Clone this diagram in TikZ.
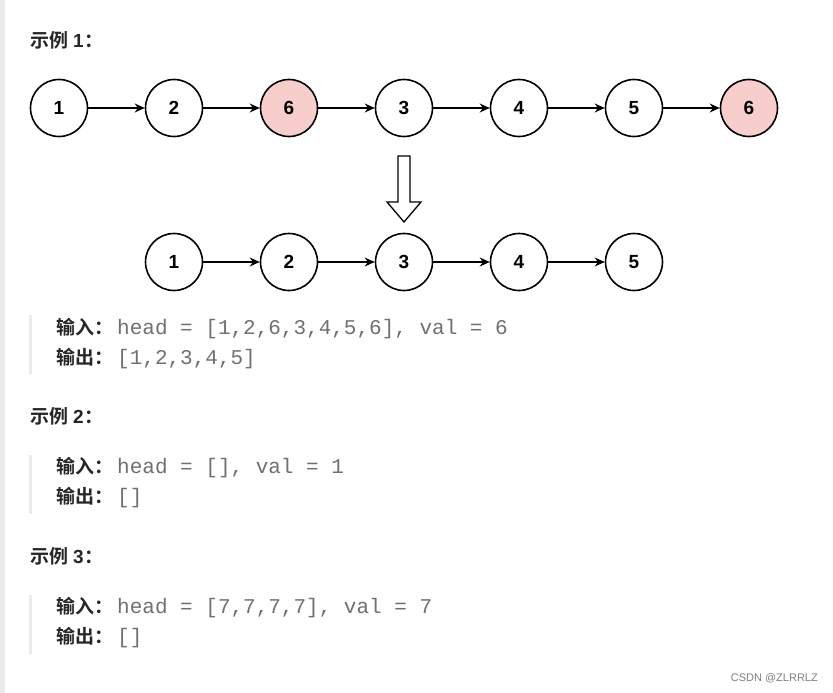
\documentclass[tikz,border=0pt]{standalone}
\usepackage{fontspec}
\setmainfont{Liberation Sans}
\newfontfamily\cjk{Noto Sans CJK SC}[BoldFont={Noto Sans CJK SC Bold}]
\newfontfamily\codefont{Liberation Mono}
\usetikzlibrary{arrows.meta}
\definecolor{pinkfill}{HTML}{F8CECC}
\definecolor{codegray}{HTML}{707070}
\definecolor{barg}{HTML}{EBEBEB}
\tikzset{
  listnode/.style={circle, draw=black, line width=1.6pt, minimum size=57pt, inner sep=0pt, fill=white,
    font=\fontsize{19}{19}\selectfont\bfseries},
  hit/.style={listnode, fill=pinkfill},
  link/.style={line width=1.3pt, -{Stealth[length=10pt,width=9pt]}},
  heading/.style={anchor=west, font=\fontsize{19}{19}\selectfont, text=black!85, inner sep=0pt},
  codeline/.style={anchor=west, inner sep=0pt, font=\fontsize{21}{21}\selectfont},
  quotebar/.style={fill=barg, draw=none},
}
\newcommand{\lbl}[1]{{\cjk\bfseries\fontsize{19}{19}\selectfont\color{black!85}#1}\kern4pt}
\newcommand{\code}[1]{{\codefont\color{codegray}#1}}
\newcommand{\hd}[1]{{\cjk\bfseries 示例}\kern5pt{\bfseries #1}\kern1pt{\cjk\bfseries ：}}
\begin{document}
\begin{tikzpicture}[x=1pt,y=-1pt]
\useasboundingbox (0,0) rectangle (833,693);
\fill[white] (0,0) rectangle (833,693);
\fill[barg] (0,0) rectangle (5,693);

% headings
\node[heading] (h1) at (30,40) {\hd{1}};
\node[heading] (h2) at (30,416) {\hd{2}};
\node[heading] (h3) at (30,556) {\hd{3}};

% row 1
\node[listnode] (a1) at (59,108) {1};
\node[listnode] (a2) at (174,108) {2};
\node[hit]      (a3) at (289,108) {6};
\node[listnode] (a4) at (404,108) {3};
\node[listnode] (a5) at (519,108) {4};
\node[listnode] (a6) at (634,108) {5};
\node[hit]      (a7) at (749,108) {6};
\foreach \i/\j in {a1/a2,a2/a3,a3/a4,a4/a5,a5/a6,a6/a7} \draw[link] (\i) -- (\j);

% hollow down arrow
\draw[line width=1.3pt, fill=white, line join=miter]
  (398,156) -- (410,156) -- (410,202) -- (421,202) -- (404,222) -- (387,202) -- (398,202) -- cycle;

% row 2
\node[listnode] (b1) at (174,262) {1};
\node[listnode] (b2) at (289,262) {2};
\node[listnode] (b3) at (404,262) {3};
\node[listnode] (b4) at (519,262) {4};
\node[listnode] (b5) at (634,262) {5};
\foreach \i/\j in {b1/b2,b2/b3,b3/b4,b4/b5} \draw[link] (\i) -- (\j);

% example 1 text
\fill[quotebar] (29,315) rectangle (32,374);
\node[codeline] (i1) at (56,329) {\lbl{输入：}\code{head = [1,2,6,3,4,5,6], val = 6}};
\node[codeline] (o1) at (56,359) {\lbl{输出：}\code{[1,2,3,4,5]}};

% example 2
\fill[quotebar] (29,455) rectangle (32,514);
\node[codeline] (i2) at (56,468) {\lbl{输入：}\code{head = [], val = 1}};
\node[codeline] (o2) at (56,498) {\lbl{输出：}\code{[]}};

% example 3
\fill[quotebar] (29,595) rectangle (32,654);
\node[codeline] (i3) at (56,608) {\lbl{输入：}\code{head = [7,7,7,7], val = 7}};
\node[codeline] (o3) at (56,638) {\lbl{输出：}\code{[]}};

% watermark
\node[anchor=east, inner sep=0pt, font=\fontsize{11}{11}\selectfont, text=black!50] (wm) at (818,678) {CSDN @ZLRRLZ};
\end{tikzpicture}
\end{document}
